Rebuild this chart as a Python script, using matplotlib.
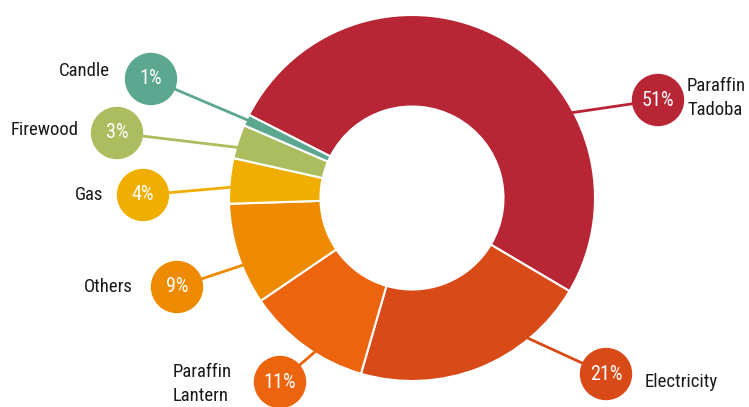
import math
import matplotlib
matplotlib.use('Agg')
import matplotlib.pyplot as plt
from matplotlib import font_manager
from matplotlib.patches import Circle

# data
labels = ['Paraffin\nTadoba', 'Electricity', 'Paraffin\nLantern', 'Others', 'Gas', 'Firewood', 'Candle']
shares = [51, 21, 11, 9, 4, 3, 1]
colors = ['#B82534', '#D84A17', '#EC650E', '#EE8A00', '#F0AE00', '#ABBD5E', '#5CA78F']

# layout (pixel coords, y measured from top)
W, H = 749, 407
cx, cy = 412, 198
r_out = 183
bubble_pos = [(658, 100), (606, 374), (280, 382), (177, 287), (143, 195), (117, 133), (151, 79)]
anchor_ang = [28.3, -50.8, 238, 201.7, 176.5, 163.7, 154.6]
text_pos = [(687, 98, 'left'), (645, 382, 'left'), (232, 384, 'right'), (133, 287, 'right'),
            (103, 195, 'right'), (79, 130, 'right'), (110, 71, 'right')]

names = {f.name for f in font_manager.fontManager.ttflist}
fam = 'DejaVu Sans'
for cand in ['Roboto Condensed', 'Open Sans Condensed', 'Liberation Sans Narrow', 'Roboto']:
    if cand in names:
        fam = cand
        break
plt.rcParams['font.family'] = fam
condensed = fam != 'Roboto'
lab_fs = 13.5 if condensed else 12.2
pct_fs = 14.5 if condensed else 13.5

fig = plt.figure(figsize=(W / 100, H / 100), dpi=100)
ax = fig.add_axes([0, 0, 1, 1])

ax.pie(shares, colors=colors, startangle=153, counterclock=False,
       center=(cx, H - cy), radius=r_out,
       wedgeprops=dict(width=r_out * 0.5, edgecolor='white', linewidth=1.5))

for i in range(len(shares)):
    bx, by = bubble_pos[i]
    a = math.radians(anchor_ang[i])
    ax_, ay_ = cx + r_out * 0.98 * math.cos(a), (H - cy) + r_out * 0.98 * math.sin(a)
    ax.plot([ax_, bx], [ay_, H - by], color=colors[i], lw=2, zorder=3, solid_capstyle='butt')
    ax.add_patch(Circle((bx, H - by), 25.5, color=colors[i], zorder=4))
    ax.text(bx, H - by, '%d%%' % shares[i], color='white', fontsize=pct_fs,
            ha='center', va='center', zorder=5)
    tx, ty, ha = text_pos[i]
    ax.text(tx, H - ty, labels[i], color='#1a1a1a', fontsize=lab_fs, ha=ha, va='center',
            multialignment='left', linespacing=1.45)

ax.set_xlim(0, W)
ax.set_ylim(0, H)
ax.set_aspect('auto')
ax.axis('off')

plt.savefig('out.png', dpi=100, facecolor='white')
